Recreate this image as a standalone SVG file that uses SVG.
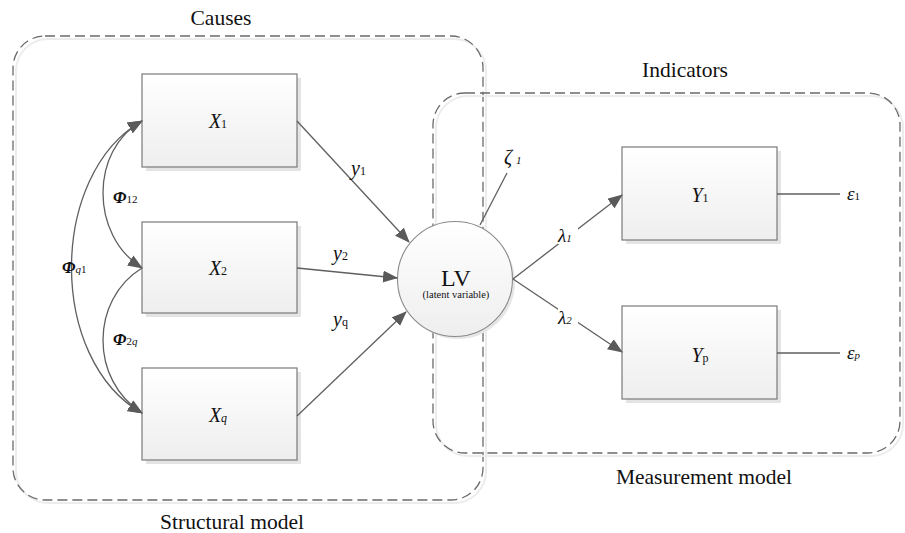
<svg xmlns="http://www.w3.org/2000/svg" width="905" height="533" viewBox="0 0 905 533" font-family="'Liberation Serif', 'Times New Roman', serif">
<defs>
<linearGradient id="bg" x1="0" y1="0" x2="0" y2="1"><stop offset="0" stop-color="#ffffff"/><stop offset="1" stop-color="#eeeeee"/></linearGradient>
<marker id="ah" viewBox="0 0 15 12" refX="14" refY="6" markerWidth="15" markerHeight="12" markerUnits="userSpaceOnUse" orient="auto-start-reverse"><path d="M0,0 L15,6 L0,12 Z" fill="#5a5a5a"/></marker>
</defs>
<style>
.box{fill:url(#bg);stroke:#7a7a7a;stroke-width:1.2}
.sh{fill:#e4e4e4}
.grp{fill:none;stroke:#6a6a6a;stroke-width:1.3;stroke-dasharray:10 5}
.grps{fill:none;stroke:#ececec;stroke-width:2}
.ln{fill:none;stroke:#5f5f5f;stroke-width:1.3}
text{font-family:'Liberation Serif','Times New Roman',serif;fill:#111}
.lab{font-size:21.5px}
.it{font-style:italic}
</style>
<g id="groups">
<rect class="grps" x="16" y="39" width="470" height="464" rx="32"/>
<rect class="grp" x="13" y="36" width="470" height="464" rx="32"/>
<rect class="grps" x="436" y="96" width="467" height="360" rx="32"/>
<rect class="grp" x="433" y="93" width="467" height="360" rx="32"/>
<text class="lab" x="221" y="25" text-anchor="middle">Causes</text>
<text class="lab" x="685" y="77" text-anchor="middle">Indicators</text>
<text class="lab" x="704" y="484" text-anchor="middle">Measurement model</text>
<text class="lab" x="232" y="529" text-anchor="middle">Structural model</text>
</g>
<g id="X1"><rect class="sh" x="146" y="78" width="155" height="93"/><rect class="box" x="142" y="74" width="155" height="93"/>
<text x="218" y="128" text-anchor="middle"><tspan class="it" font-size="20">X</tspan><tspan font-size="12">1</tspan></text></g>
<g id="X2"><rect class="sh" x="146" y="226" width="155" height="91"/><rect class="box" x="142" y="222" width="155" height="91"/>
<text x="218" y="275" text-anchor="middle"><tspan class="it" font-size="20">X</tspan><tspan font-size="12">2</tspan></text></g>
<g id="Xq"><rect class="sh" x="146" y="372" width="155" height="92"/><rect class="box" x="142" y="368" width="155" height="92"/>
<text x="218" y="422" text-anchor="middle"><tspan class="it" font-size="20">X</tspan><tspan class="it" font-size="12">q</tspan></text></g>
<g id="Y1"><rect class="sh" x="626" y="151" width="155" height="93"/><rect class="box" x="622" y="147" width="155" height="93"/>
<text x="700" y="202" text-anchor="middle"><tspan class="it" font-size="20">Y</tspan><tspan font-size="12">1</tspan></text></g>
<g id="Yp"><rect class="sh" x="626" y="310" width="155" height="93"/><rect class="box" x="622" y="306" width="155" height="93"/>
<text x="700" y="362" text-anchor="middle"><tspan class="it" font-size="20">Y</tspan><tspan font-size="12">p</tspan></text></g>
<g id="LV"><circle cx="458" cy="282" r="57" fill="#e6e6e6"/><circle cx="455" cy="279" r="57.5" fill="url(#bg)" stroke="#8a8a8a" stroke-width="1.1"/>
<text x="456" y="286" text-anchor="middle" font-size="24">LV</text>
<text x="456" y="298" text-anchor="middle" font-size="10.5">(latent  variable)</text></g>
<g id="connectors">
<path class="ln" d="M297,121 L409,242" marker-end="url(#ah)"/>
<path class="ln" d="M297,268 L397,278" marker-end="url(#ah)"/>
<path class="ln" d="M297,416 L406,312" marker-end="url(#ah)"/>
<path class="ln" d="M513,279 L622,195" marker-end="url(#ah)"/>
<path class="ln" d="M513,279 L622,352" marker-end="url(#ah)"/>
<path class="ln" d="M480,225 L507,173"/>
<path class="ln" d="M777,194 L840,194"/>
<path class="ln" d="M777,353 L840,353"/>
<path class="ln" d="M142,413 C48,360 48,175 142,121" marker-start="url(#ah)" marker-end="url(#ah)"/>
<path class="ln" d="M142,121 C90,150 90,235 142,268" marker-start="url(#ah)" marker-end="url(#ah)"/>
<path class="ln" d="M142,268 C90,300 90,380 142,413" marker-end="url(#ah)"/>
</g>
<g id="labels">
<text x="351" y="175"><tspan class="it" font-size="20">y</tspan><tspan font-size="12">1</tspan></text>
<text x="333" y="260"><tspan class="it" font-size="20">y</tspan><tspan font-size="12">2</tspan></text>
<text x="333" y="326"><tspan class="it" font-size="20">y</tspan><tspan font-size="12">q</tspan></text>
<rect x="558" y="224" width="20" height="20" fill="#fff"/>
<text x="558" y="242"><tspan class="it" font-size="19">λ</tspan><tspan class="it" font-size="11">1</tspan></text>
<rect x="558" y="306" width="20" height="20" fill="#fff"/>
<text x="558" y="324"><tspan class="it" font-size="19">λ</tspan><tspan class="it" font-size="11">2</tspan></text>
<text x="504" y="164"><tspan class="it" font-size="20">ζ</tspan><tspan class="it" font-size="11" dx="4">1</tspan></text>
<text x="847" y="200"><tspan class="it" font-size="19">ε</tspan><tspan font-size="11">1</tspan></text>
<text x="847" y="359"><tspan class="it" font-size="19">ε</tspan><tspan class="it" font-size="11">p</tspan></text>
<text x="113" y="203"><tspan class="it" font-weight="bold" font-size="17">Φ</tspan><tspan font-size="11">12</tspan></text>
<text x="62" y="273"><tspan class="it" font-weight="bold" font-size="17">Φ</tspan><tspan class="it" font-size="11">q</tspan><tspan font-size="11">1</tspan></text>
<text x="113" y="345"><tspan class="it" font-weight="bold" font-size="17">Φ</tspan><tspan font-size="11">2</tspan><tspan class="it" font-size="11">q</tspan></text>
</g>
</svg>
